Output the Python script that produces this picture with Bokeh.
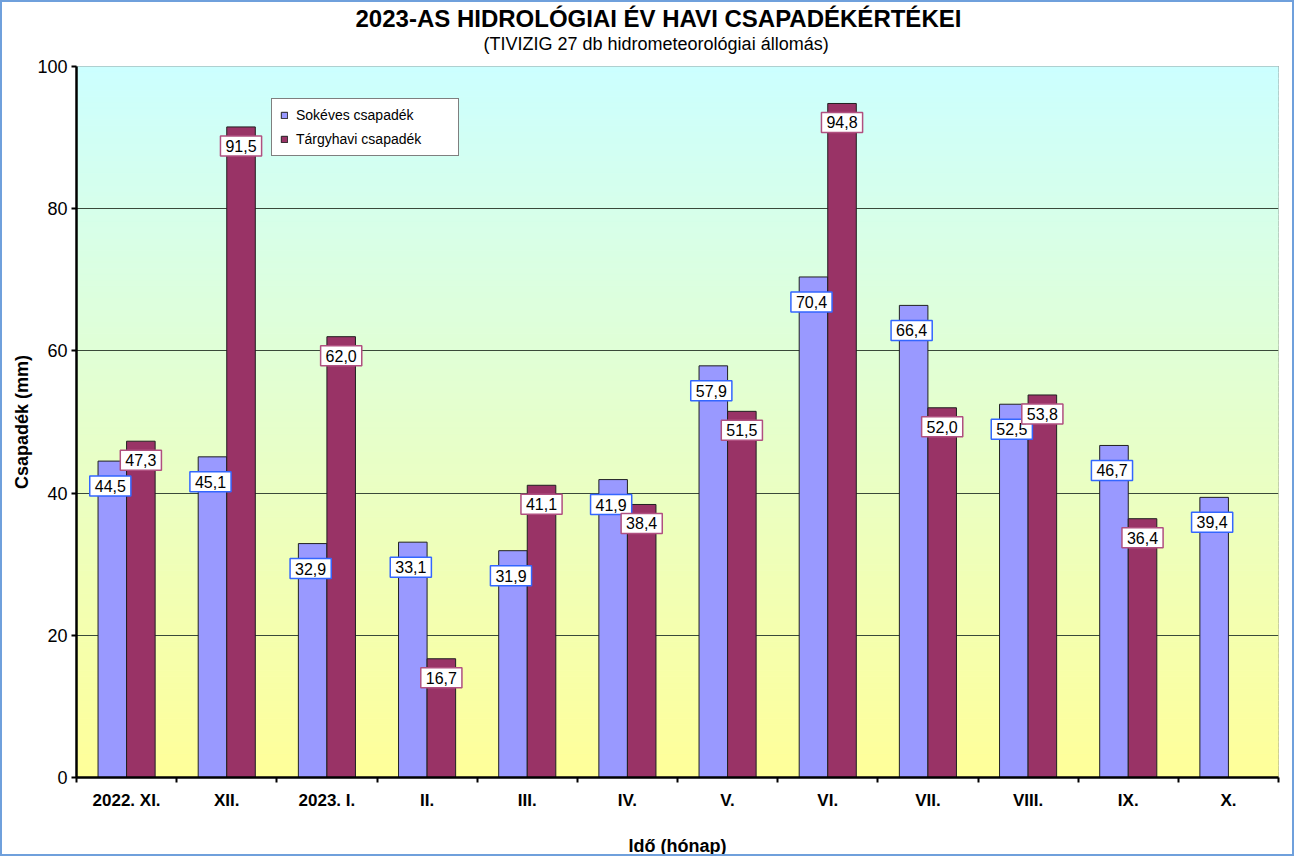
import numpy as np
from bokeh.plotting import figure
from bokeh.models import Range1d, FixedTicker, Legend, LegendItem, ColumnDataSource, Title
from bokeh.core.properties import value
from bokeh.embed import file_html
from bokeh.resources import INLINE

# ---- data ----
months = ["2022. XI.", "XII.", "2023. I.", "II.", "III.", "IV.", "V.", "VI.",
          "VII.", "VIII.", "IX.", "X."]
sokeves = [44.5, 45.1, 32.9, 33.1, 31.9, 41.9, 57.9, 70.4, 66.4, 52.5, 46.7, 39.4]
targyhavi = [47.3, 91.5, 62.0, 16.7, 41.1, 38.4, 51.5, 94.8, 52.0, 53.8, 36.4, None]
y_ticks = [0, 20, 40, 60, 80, 100]
series_names = ["Sokéves csapadék", "Tárgyhavi csapadék"]
title_text = "2023-AS HIDROLÓGIAI  ÉV HAVI  CSAPADÉKÉRTÉKEI"
subtitle_text = "(TIVIZIG  27 db hidrometeorológiai állomás)"

FONT = "Liberation Sans"
BLUE = "#9999ff"
RED = "#993366"


def fmt(v):
    return f"{v:.1f}".replace(".", ",")


idx = np.arange(len(months)) + 0.5
bw = 0.285
blue_x = idx - bw / 2
red_x = idx + bw / 2

src_b = ColumnDataSource(dict(x=blue_x, top=sokeves, label=[fmt(v) for v in sokeves]))
valid = [i for i, v in enumerate(targyhavi) if v is not None]
src_r = ColumnDataSource(dict(x=red_x[valid], top=[targyhavi[i] for i in valid],
                              label=[fmt(targyhavi[i]) for i in valid]))

p = figure(width=1294, height=856, x_range=Range1d(0, 12), y_range=Range1d(0, 100),
           output_backend="svg", toolbar_location=None, title=None,
           min_border_left=74, min_border_right=18, min_border_top=64, min_border_bottom=79,
           border_fill_color="white")
p.styles = {"border": "2px solid #6fa0dc"}

# gradient background (cyan top -> yellow bottom)
n = 120
edges = np.linspace(0, 100, n + 1)
top_c = np.array([204, 255, 255])
bot_c = np.array([255, 255, 153])
cols = []
for k in range(n):
    f = (edges[k] + edges[k + 1]) / 200.0
    c = bot_c + (top_c - bot_c) * f
    cols.append("#%02x%02x%02x" % tuple(int(round(v)) for v in c))
p.quad(left=0, right=12, bottom=edges[:-1], top=edges[1:], fill_color=cols,
       line_color=cols, line_width=1, level="image")

rb = p.vbar(x="x", top="top", width=bw, source=src_b, fill_color=BLUE,
            line_color="#202020", line_width=1)
rr = p.vbar(x="x", top="top", width=bw, source=src_r, fill_color=RED,
            line_color="#202020", line_width=1)

common = dict(text_align="center", text_baseline="middle", text_font=value(FONT),
              text_font_size="16px", text_color="black", background_fill_color="white",
              border_line_width=1.5, padding=(5, 4))
p.text(x="x", y="top", text="label", source=src_b, x_offset=-2, y_offset=25,
       border_line_color="#3366ff", **common)
p.text(x="x", y="top", text="label", source=src_r, x_offset=0, y_offset=19,
       border_line_color="#b05080", **common)

# axes
p.xaxis.ticker = FixedTicker(ticks=list(idx), minor_ticks=list(range(13)))
p.xaxis.major_label_overrides = {float(c): m for c, m in zip(idx, months)}
p.xaxis.major_tick_line_color = None
p.xaxis.major_tick_out = 5
p.xaxis.major_tick_in = 0
p.xaxis.minor_tick_out = 5
p.xaxis.minor_tick_in = 0
p.xaxis.minor_tick_line_color = "black"
p.xaxis.minor_tick_line_width = 2
p.xaxis.axis_line_width = 2.5
p.xaxis.axis_line_color = "black"
p.xaxis.major_label_text_font = FONT
p.xaxis.major_label_text_font_style = "bold"
p.xaxis.major_label_text_font_size = "17px"
p.xaxis.major_label_text_color = "black"
p.xaxis.major_label_standoff = 8
p.xaxis.axis_label = "Idő (hónap)"
p.xaxis.axis_label_text_font = FONT
p.xaxis.axis_label_text_font_style = "bold"
p.xaxis.axis_label_text_font_size = "18px"
p.xaxis.axis_label_text_color = "black"
p.xaxis.axis_label_standoff = 23

p.yaxis.ticker = FixedTicker(ticks=y_ticks)
p.yaxis.minor_tick_line_color = None
p.yaxis.major_tick_out = 5
p.yaxis.major_tick_in = 0
p.yaxis.major_tick_line_width = 2
p.yaxis.major_tick_line_color = "black"
p.yaxis.axis_line_width = 2.5
p.yaxis.axis_line_color = "black"
p.yaxis.major_label_text_font = FONT
p.yaxis.major_label_text_font_size = "18px"
p.yaxis.major_label_text_color = "black"
p.yaxis.major_label_standoff = 4
p.yaxis.axis_label = "Csapadék (mm)"
p.yaxis.axis_label_text_font = FONT
p.yaxis.axis_label_text_font_style = "bold"
p.yaxis.axis_label_text_font_size = "18px"
p.yaxis.axis_label_text_color = "black"
p.yaxis.axis_label_standoff = 2

p.xgrid.visible = False
p.ygrid.ticker = FixedTicker(ticks=y_ticks)
p.ygrid.grid_line_color = "#3a4a3a"
p.ygrid.grid_line_width = 1
p.outline_line_color = "#808080"
p.outline_line_width = 1

# titles (a thin spacer keeps a gap between the plot frame and the subtitle)
p.add_layout(Title(text=" ", text_font_size="1px", standoff=10), "above")
p.add_layout(Title(text=subtitle_text, align="left", offset=407, standoff=0,
                   text_font=FONT, text_font_size="18px", text_font_style="normal",
                   text_color="black"), "above")
p.add_layout(Title(text=title_text, align="left", offset=279, standoff=0,
                   text_font=FONT, text_font_size="24px", text_font_style="bold",
                   text_color="black"), "above")

legend = Legend(items=[LegendItem(label=series_names[0], renderers=[rb]),
                       LegendItem(label=series_names[1], renderers=[rr])],
                location=(195, 621), orientation="vertical")
legend.label_text_font = FONT
legend.label_text_font_size = "14px"
legend.label_text_color = "black"
legend.glyph_width = 8
legend.glyph_height = 8
legend.label_height = 16
legend.spacing = 8
legend.padding = 8
legend.label_standoff = 8
legend.label_width = 154
legend.border_line_color = "black"
legend.border_line_width = 1
legend.background_fill_color = "white"
legend.background_fill_alpha = 1
legend.margin = 0
p.add_layout(legend)

open("out.html", "w").write(file_html(p, INLINE))
